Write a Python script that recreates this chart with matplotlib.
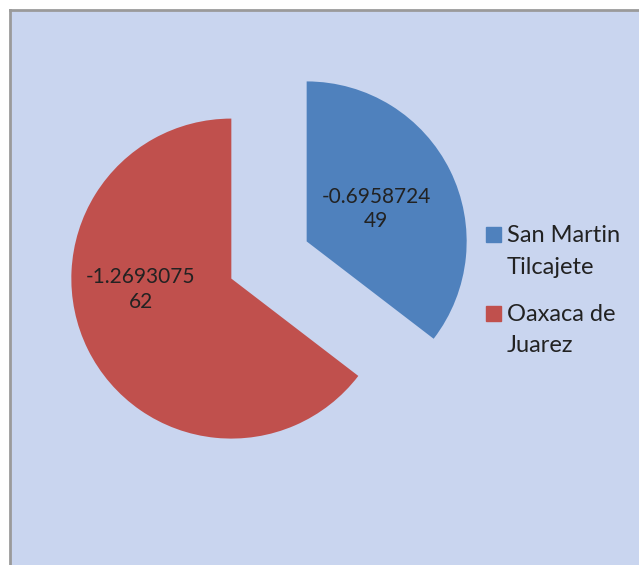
"""Exploded two-slice pie (Excel style) for San Martin Tilcajete vs Oaxaca de Juarez."""

import math
import textwrap

import matplotlib
matplotlib.use("Agg")
import matplotlib.pyplot as plt
from matplotlib.patches import Rectangle

categories = ["San Martin Tilcajete", "Oaxaca de Juarez"]
legend_lines = [["San Martin", "Tilcajete"], ["Oaxaca de", "Juarez"]]
values = [-0.695872449, -1.269307562]
colors = ["#4F81BD", "#C0504D"]

W, H = 639, 565
TEXT = "#222222"
plt.rcParams["font.family"] = ["Lato", "DejaVu Sans"]


def main():
    fig = plt.figure(figsize=(W / 100, H / 100), dpi=100, facecolor="white")
    # plot area: gray line on top/left, runs off the image right and bottom
    ax = fig.add_axes([10 / W, 0, (W - 10) / W, (H - 10) / H])
    ax.set_facecolor("#c9d5ef")

    wedges, _, autotexts = ax.pie(
        [abs(v) for v in values], colors=colors, startangle=90, counterclock=False,
        center=(269, 305), radius=160, explode=[42, 42],
        autopct=lambda p: "", pctdistance=0.5, frame=True,
        wedgeprops=dict(linewidth=0),
    )
    ax.set_xlim(10, W)
    ax.set_ylim(0, H - 10)
    ax.set_xticks([]); ax.set_yticks([])
    for s in ("right", "bottom"):
        ax.spines[s].set_visible(False)
    for s in ("top", "left"):
        ax.spines[s].set_color("#9a9a9a"); ax.spines[s].set_linewidth(2)

    # data labels, Excel "best fit" placement (radius fraction, angle in deg)
    spots = [(0.48, 25), (0.57, 187)]
    for w, t, v, (fr, ang) in zip(wedges, autotexts, values, spots):
        cx, cy = w.center
        t.set_position((cx + fr * w.r * math.cos(math.radians(ang)),
                        cy + fr * w.r * math.sin(math.radians(ang))))
        t.set_text("\n".join(textwrap.wrap(f"{v}", 10)))
        t.set_fontsize(15); t.set_color(TEXT); t.set_linespacing(1.3)
        t.set_ha("center"); t.set_va("center")

    # legend, marker aligned with the first line of each wrapped entry
    for i, (lines, c) in enumerate(zip(legend_lines, colors)):
        base = H - 242 - i * 79
        ax.add_patch(Rectangle((486, base), 15, 15, color=c, clip_on=False))
        for j, ln in enumerate(lines):
            ax.text(507, base - j * 31.5, ln, fontsize=17, color=TEXT, va="baseline")

    fig.savefig("out.png", dpi=100)


if __name__ == "__main__":
    main()
